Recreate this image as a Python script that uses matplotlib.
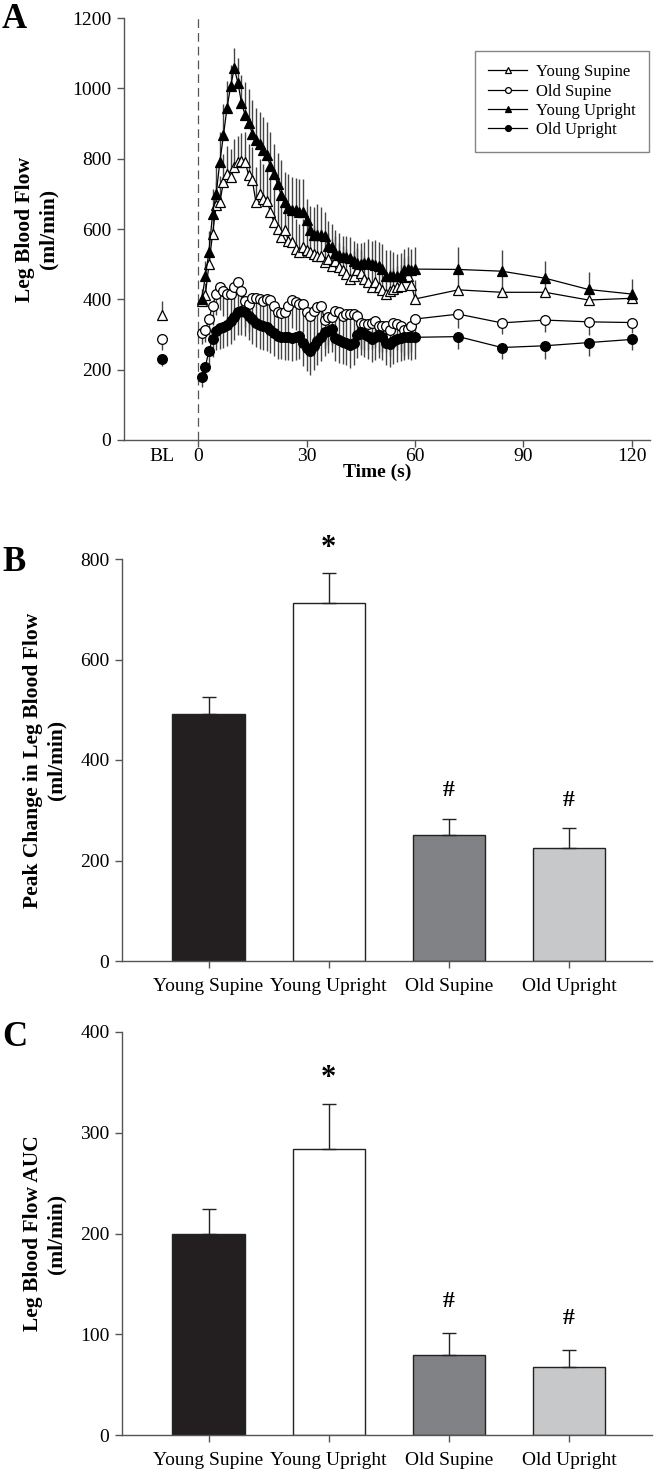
import numpy as np
import matplotlib.pyplot as plt

plt.rcParams['font.family'] = ['Liberation Serif', 'DejaVu Serif']

# ---- Panel A data (leg blood flow, ml/min) ----
t_fast = list(range(1, 61))
t_tail = [72, 84, 96, 108, 120]
t_bl = -10

young_supine = [396, 412, 500, 586, 667, 676, 733, 757, 748, 777,
                790, 793, 790, 753, 738, 676, 700, 686, 681, 648,
                620, 601, 577, 596, 567, 562, 543, 534, 548, 539,
                534, 529, 524, 524, 505, 515, 496, 510, 491, 482,
                472, 458, 467, 482, 474, 458, 450, 436, 448, 436,
                427, 415, 425, 430, 435, 439, 463, 467, 440, 401]
young_supine_tail = [427, 420, 420, 398, 403]
young_supine_err = [25, 35, 50, 60, 70, 75, 80, 80, 80, 80,
                    75, 80, 85, 90, 95, 100, 100, 100, 95, 95,
                    95, 90, 90, 85, 85, 85, 85, 80, 80, 80,
                    80, 80, 75, 75, 75, 75, 75, 70, 70, 70,
                    70, 70, 70, 65, 65, 65, 65, 65, 65, 65,
                    60, 60, 60, 60, 60, 60, 55, 55, 55, 55]
young_supine_tail_err = [70, 60, 45, 35, 20]

young_upright = [400, 465, 535, 643, 700, 790, 866, 945, 1006, 1057,
                 1016, 959, 924, 902, 871, 854, 841, 826, 810, 778,
                 757, 727, 696, 677, 660, 655, 653, 648, 648, 626,
                 596, 583, 582, 582, 579, 553, 548, 532, 525, 520,
                 520, 518, 510, 503, 501, 503, 507, 501, 498, 494,
                 486, 467, 465, 465, 465, 470, 482, 486, 482, 486]
young_upright_tail = [485, 480, 460, 428, 415]
young_upright_err = [30, 45, 60, 70, 80, 85, 90, 75, 60, 57,
                     69, 80, 94, 95, 95, 91, 92, 93, 95, 98,
                     84, 89, 99, 85, 97, 93, 93, 95, 95, 60,
                     70, 80, 90, 80, 70, 69, 66, 66, 65, 60,
                     60, 58, 56, 56, 60, 60, 65, 65, 70, 70,
                     72, 74, 74, 70, 65, 62, 60, 62, 60, 62]
young_upright_tail_err = [65, 59, 50, 49, 44]

old_supine = [303, 313, 344, 382, 415, 436, 423, 415, 415, 436,
              448, 423, 396, 387, 404, 404, 401, 396, 401, 399,
              382, 363, 360, 363, 382, 399, 391, 387, 387, 363,
              353, 368, 378, 382, 342, 349, 349, 368, 363, 353,
              358, 358, 358, 353, 334, 330, 330, 334, 339, 325,
              325, 325, 313, 334, 330, 325, 313, 316, 325, 344]
old_supine_tail = [358, 333, 341, 336, 334]
old_supine_err = [30, 35, 45, 55, 60, 65, 70, 70, 75, 75,
                  75, 75, 75, 80, 80, 78, 80, 82, 80, 80,
                  78, 80, 80, 82, 80, 80, 78, 80, 80, 82,
                  80, 80, 80, 78, 80, 80, 80, 80, 78, 80,
                  80, 75, 75, 75, 76, 75, 75, 74, 75, 75,
                  75, 75, 74, 75, 75, 75, 75, 74, 75, 70]
old_supine_tail_err = [40, 32, 35, 38, 30]

old_upright = [180, 208, 254, 287, 311, 318, 322, 328, 339, 349,
               363, 368, 363, 353, 344, 334, 328, 325, 320, 313,
               303, 296, 294, 292, 292, 290, 292, 296, 277, 263,
               254, 268, 282, 294, 306, 311, 316, 290, 284, 280,
               277, 271, 277, 299, 306, 301, 296, 287, 292, 299,
               292, 277, 273, 282, 287, 290, 292, 294, 292, 292]
old_upright_tail = [294, 263, 268, 277, 286]
old_upright_err = [30, 35, 45, 50, 55, 60, 60, 62, 65, 65,
                   65, 68, 68, 70, 70, 70, 68, 68, 66, 66,
                   65, 65, 65, 65, 65, 65, 65, 65, 66, 68,
                   70, 70, 70, 68, 66, 65, 65, 65, 65, 65,
                   65, 65, 65, 65, 65, 65, 65, 65, 65, 65,
                   65, 65, 65, 65, 65, 65, 65, 65, 65, 62]
old_upright_tail_err = [35, 33, 38, 38, 30]

# baseline (BL) values and errors
bl_young_supine, bl_young_supine_err = 356, 38
bl_old_supine, bl_old_supine_err = 286, 30
bl_old_upright, bl_old_upright_err = 230, 19

# ---- Panel B / C data ----
groups = ['Young Supine', 'Young Upright', 'Old Supine', 'Old Upright']
bar_colors = ['#231f20', '#ffffff', '#808285', '#c7c8ca']
peak_change = [491, 713, 250, 224]
peak_change_err = [34, 60, 33, 40]
auc = [200, 284, 79, 67]
auc_err = [24, 45, 22, 17]
peak_marks = ['', '*', '#', '#']
auc_marks = ['', '*', '#', '#']

W, H = 654, 1471
fig = plt.figure(figsize=(W / 100, H / 100), dpi=100)

def px_axes(left, top, right, bottom):
  return fig.add_axes([left / W, 1 - bottom / H, (right - left) / W, (bottom - top) / H])

spine_col = '#555555'
TICK_FS = 14
LABEL_FS = 15.5

def style_axes(ax):
  for s in ['top', 'right']:
    ax.spines[s].set_visible(False)
  for s in ['left', 'bottom']:
    ax.spines[s].set_color(spine_col)
    ax.spines[s].set_linewidth(1.0)
  ax.tick_params(direction='out', length=5, width=1, color=spine_col, labelsize=TICK_FS, pad=4)

# ---------------- Panel A ----------------
axA = px_axes(124, 18, 650, 440)
style_axes(axA)

def series(ax, y, y_tail, err, err_tail, bl, bl_err, marker, face, upward, label):
  tt = t_fast + t_tail
  yy = y + y_tail
  ee = err + err_tail
  zeros = [0] * len(ee)
  yerr = [zeros, ee] if upward else [ee, zeros]
  ax.errorbar(tt, yy, yerr=yerr, fmt='none', ecolor='#444444', elinewidth=1.0, capsize=0, zorder=2)
  ax.plot(tt, yy, color='black', lw=0.9, marker=marker, ms=7, mfc=face, mec='black',
          mew=0.9, zorder=3, label=label)
  if bl is not None:
    berr = [[0], [bl_err]] if upward else [[bl_err], [0]]
    ax.errorbar([t_bl], [bl], yerr=berr, fmt='none', ecolor='#444444', elinewidth=1.0, capsize=0, zorder=2)
    ax.plot([t_bl], [bl], ls='none', marker=marker, ms=7, mfc=face, mec='black', mew=0.9, zorder=3)

series(axA, young_supine, young_supine_tail, young_supine_err, young_supine_tail_err,
       bl_young_supine, bl_young_supine_err, '^', 'white', True, 'Young Supine')
series(axA, old_supine, old_supine_tail, old_supine_err, old_supine_tail_err,
       bl_old_supine, bl_old_supine_err, 'o', 'white', False, 'Old Supine')
series(axA, young_upright, young_upright_tail, young_upright_err, young_upright_tail_err,
       None, None, '^', 'black', True, 'Young Upright')
series(axA, old_upright, old_upright_tail, old_upright_err, old_upright_tail_err,
       bl_old_upright, bl_old_upright_err, 'o', 'black', False, 'Old Upright')

axA.axvline(0, color='#555555', lw=0.9, ls=(0, (7, 4)), zorder=1)
axA.set_xlim(-20.5, 125)
axA.set_ylim(0, 1200)
axA.set_yticks([0, 200, 400, 600, 800, 1000, 1200])
axA.set_xticks([-10, 0, 30, 60, 90, 120])
axA.set_xticklabels(['BL', '0', '30', '60', '90', '120'])
axA.xaxis.get_major_ticks()[0].tick1line.set_visible(False)
axA.tick_params(axis='x', pad=1)
axA.set_xlabel('Time (s)', fontsize=14, fontweight='bold', va='center')
axA.xaxis.set_label_coords(0.482, -0.076)
axA.set_ylabel('Leg Blood Flow\n(ml/min)', fontsize=LABEL_FS, fontweight='bold', labelpad=10)

handles, labels = axA.get_legend_handles_labels()
leg = axA.legend(handles, labels, loc='upper right', bbox_to_anchor=(0.998, 0.922),
                 fontsize=12, frameon=True, fancybox=False, markerscale=0.6,
                 handlelength=2.3, borderpad=0.8, labelspacing=0.2, handletextpad=0.55,
                 borderaxespad=0)
leg.get_frame().set_edgecolor('#666666')
leg.get_frame().set_linewidth(1.0)

fig.text(2 / W, 1 - 20 / H, 'A', fontsize=25, fontweight='bold', va='center', ha='left')

# ---------------- Panels B and C ----------------
def bar_panel(top, bottom, values, errs, marks, ymax, yticks, ylabel, letter, letter_y, star_off, hash_off):
  ax = px_axes(122, top, 652, bottom)
  style_axes(ax)
  x = np.arange(len(groups))
  ax.bar(x, values, width=0.6, color=bar_colors, edgecolor='#222222', linewidth=1.0, zorder=2)
  ax.errorbar(x, values, yerr=[[0] * len(errs), errs], fmt='none', ecolor='#222222',
              elinewidth=1.0, capsize=5, capthick=1.0, zorder=3)
  for xi, v, e, m in zip(x, values, errs, marks):
    if m == '*':
      ax.text(xi, v + e + ymax * star_off, m, ha='center', va='center', fontsize=22, fontweight='bold', clip_on=False)
    elif m:
      ax.text(xi, v + e + ymax * hash_off, m, ha='center', va='center', fontsize=17, fontweight='bold', clip_on=False)
  ax.set_xlim(-0.72, 3.69)
  ax.set_ylim(0, ymax)
  ax.set_yticks(yticks)
  ax.set_xticks(x)
  ax.set_xticklabels(groups)
  ax.tick_params(axis='x', pad=7)
  ax.set_ylabel(ylabel, fontsize=LABEL_FS, fontweight='bold', labelpad=10)
  fig.text(2 / W, 1 - letter_y / H, letter, fontsize=25, fontweight='bold', va='center', ha='left')
  return ax

bar_panel(559, 961, peak_change, peak_change_err, peak_marks, 800, [0, 200, 400, 600, 800],
          'Peak Change in Leg Blood Flow\n(ml/min)', 'B', 562, 0.06, 0.07)
bar_panel(1032, 1435, auc, auc_err, auc_marks, 400, [0, 100, 200, 300, 400],
          'Leg Blood Flow AUC\n(ml/min)', 'C', 1037, 0.0625, 0.078)

fig.savefig('out.png', dpi=100)
